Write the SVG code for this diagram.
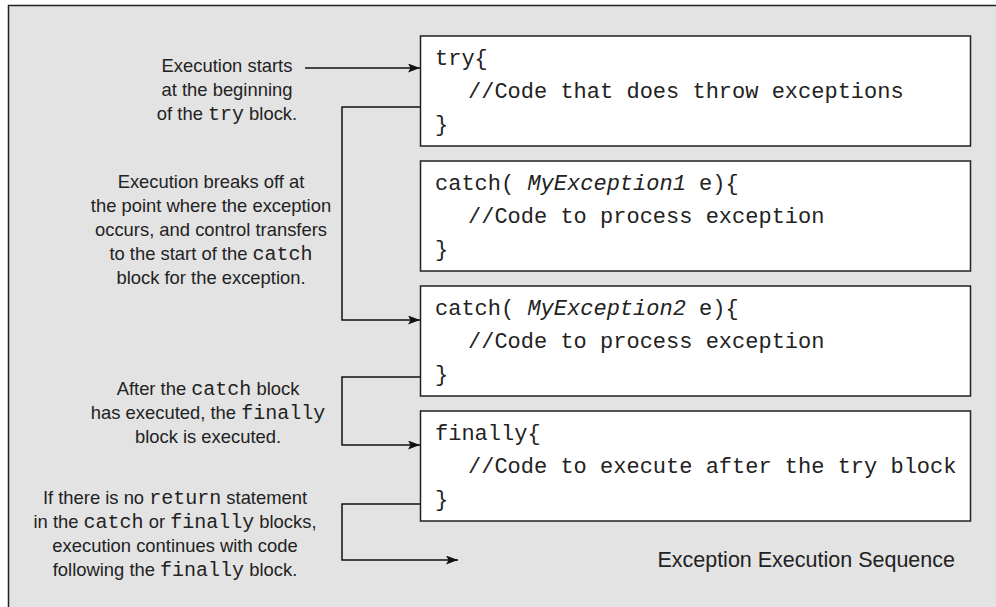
<svg xmlns="http://www.w3.org/2000/svg" width="996" height="607" viewBox="0 0 996 607">
<style>
.frame{fill:#e3e3e3;stroke:#222;stroke-width:1.5}
.box{fill:#fff;stroke:#222;stroke-width:1.5}
.code{font-family:"Liberation Mono","Courier New",monospace;font-size:22px;fill:#222}
.it{font-style:italic}
.lbl{font-family:"Liberation Sans",Arial,sans-serif;font-size:18.4px;fill:#222;text-anchor:middle}
.m{font-family:"Liberation Mono","Courier New",monospace;font-size:20px}
.conn{fill:none;stroke:#111;stroke-width:1.5}
.cap{font-family:"Liberation Sans",Arial,sans-serif;font-size:21.5px;fill:#222;text-anchor:end}
</style>
<defs>
<marker id="arr" markerUnits="userSpaceOnUse" markerWidth="12" markerHeight="9" refX="12" refY="4.5" orient="auto">
<path d="M0,0 L12,4.5 L0,9 L2.5,4.5 z" fill="#111"/>
</marker>
</defs>
<rect class="frame" x="8.5" y="5.5" width="1000" height="620"/>

<g id="try-block">
<rect class="box" x="420.5" y="36" width="550" height="110"/>
<text class="code" x="435" y="65">try{</text>
<text class="code" x="468" y="98">//Code that does throw exceptions</text>
<text class="code" x="435" y="131">}</text>
</g>
<g id="catch1-block">
<rect class="box" x="420.5" y="161" width="550" height="110"/>
<text class="code" x="435" y="190">catch( <tspan class="it">MyException1</tspan> e){</text>
<text class="code" x="468" y="223">//Code to process exception</text>
<text class="code" x="435" y="256">}</text>
</g>
<g id="catch2-block">
<rect class="box" x="420.5" y="286" width="550" height="110"/>
<text class="code" x="435" y="315">catch( <tspan class="it">MyException2</tspan> e){</text>
<text class="code" x="468" y="348">//Code to process exception</text>
<text class="code" x="435" y="381">}</text>
</g>
<g id="finally-block">
<rect class="box" x="420.5" y="411" width="550" height="110"/>
<text class="code" x="435" y="440">finally{</text>
<text class="code" x="468" y="473">//Code to execute after the try block</text>
<text class="code" x="435" y="506">}</text>
</g>

<g id="label-start">
<text class="lbl" x="227" y="72">Execution starts</text>
<text class="lbl" x="227" y="96">at the beginning</text>
<text class="lbl" x="227" y="120">of the <tspan class="m">try</tspan> block.</text>
</g>
<g id="label-break">
<text class="lbl" x="211" y="188">Execution breaks off at</text>
<text class="lbl" x="211" y="212">the point where the exception</text>
<text class="lbl" x="211" y="236">occurs, and control transfers</text>
<text class="lbl" x="211" y="260">to the start of the <tspan class="m">catch</tspan></text>
<text class="lbl" x="211" y="284">block for the exception.</text>
</g>
<g id="label-after-catch">
<text class="lbl" x="208" y="395">After the <tspan class="m">catch</tspan> block</text>
<text class="lbl" x="208" y="419">has executed, the <tspan class="m">finally</tspan></text>
<text class="lbl" x="208" y="443">block is executed.</text>
</g>
<g id="label-no-return">
<text class="lbl" x="175" y="504">If there is no <tspan class="m">return</tspan> statement</text>
<text class="lbl" x="175" y="528">in the <tspan class="m">catch</tspan> or <tspan class="m">finally</tspan> blocks,</text>
<text class="lbl" x="175" y="552">execution continues with code</text>
<text class="lbl" x="175" y="576">following the <tspan class="m">finally</tspan> block.</text>
</g>
<g id="caption">
<text class="cap" x="955" y="567">Exception Execution Sequence</text>
</g>

<g id="connectors">
<path class="conn" d="M305,68 H420" marker-end="url(#arr)"/>
<path class="conn" d="M420,107 H342 V320 H420" marker-end="url(#arr)"/>
<path class="conn" d="M420,377 H342 V445 H420" marker-end="url(#arr)"/>
<path class="conn" d="M420,504 H342 V560 H458" marker-end="url(#arr)"/>
</g>
</svg>
